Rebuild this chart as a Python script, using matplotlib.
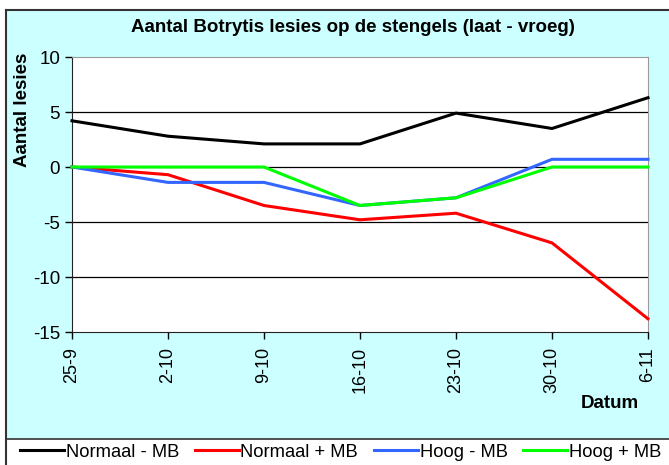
import matplotlib.pyplot as plt
from matplotlib.patches import Rectangle
from matplotlib.lines import Line2D

plt.rcParams['font.family'] = ['Liberation Sans', 'DejaVu Sans']
plt.rcParams['axes.unicode_minus'] = False

# --- Data ---
dates = ['25-9', '2-10', '9-10', '16-10', '23-10', '30-10', '6-11']
normaal_min = [4.2, 2.8, 2.1, 2.1, 4.9, 3.5, 6.3]
normaal_plus = [0.0, -0.7, -3.5, -4.8, -4.2, -6.9, -13.8]
hoog_min = [0.0, -1.4, -1.4, -3.5, -2.8, 0.7, 0.7]
hoog_plus = [0.0, 0.0, 0.0, -3.5, -2.8, 0.0, 0.0]

series = [
    ('Normaal - MB', normaal_min, '#000000'),
    ('Normaal + MB', normaal_plus, '#FF0000'),
    ('Hoog - MB', hoog_min, '#3366FF'),
    ('Hoog + MB', hoog_plus, '#00FF00'),
]

W, H = 669, 465
fs = 13.5
fig = plt.figure(figsize=(W / 100, H / 100), dpi=100)
fig.patch.set_facecolor('white')

# chart area background + border, legend strip below
fig.patches.append(Rectangle((6 / W, 0), 1, (H - 10) / H, transform=fig.transFigure,
                             facecolor='#CCFFFF', edgecolor='none', zorder=-10))
fig.patches.append(Rectangle((6 / W, 0), 1, (H - 439) / H, transform=fig.transFigure,
                             facecolor='white', edgecolor='none', zorder=-9))
fig.lines.append(Line2D([6 / W, 6 / W], [0, (H - 10) / H], transform=fig.transFigure,
                        color='#333333', lw=1.5, zorder=-5))
fig.lines.append(Line2D([6 / W, 1], [(H - 10) / H, (H - 10) / H], transform=fig.transFigure,
                        color='#333333', lw=1.5, zorder=-5))
fig.lines.append(Line2D([6 / W, 1], [(H - 439) / H, (H - 439) / H], transform=fig.transFigure,
                        color='#333333', lw=1.2, zorder=-5))

ax = fig.add_axes([72 / W, (H - 332) / H, (648 - 72) / W, (332 - 57) / H])
ax.set_facecolor('white')

x = list(range(len(dates)))
for name, vals, col in series:
    ax.plot(x, vals, color=col, lw=2.2, label=name, zorder=3, clip_on=False)

ax.set_xlim(0, len(dates) - 1)
ax.set_ylim(-15, 10)
ax.set_yticks([-15, -10, -5, 0, 5, 10])
ax.set_xticks(x)
ax.set_xticklabels(dates, rotation=90, fontsize=fs - 0.5)
ax.tick_params(axis='y', labelsize=fs, length=5, width=1)
ax.tick_params(axis='x', length=5, width=1, pad=6)

for yv in [-10, -5, 0, 5]:
    ax.axhline(yv, color='black', lw=0.9, zorder=1)

for s in ['top', 'right']:
    ax.spines[s].set_color('#999999')
for s in ['left', 'bottom']:
    ax.spines[s].set_color('#222222')

fig.text(0.527, (H - 28) / H, 'Aantal Botrytis lesies op de stengels (laat - vroeg)',
         ha='center', va='center', fontsize=fs, fontweight='bold')
fig.text(23 / W, (H - 110) / H, 'Aantal lesies', rotation=90, ha='center', va='center',
         fontsize=fs, fontweight='bold')
fig.text(610 / W, (H - 403) / H, 'Datum', ha='center', va='center',
         fontsize=fs, fontweight='bold')

fig.legend(loc='center', bbox_to_anchor=(0.509, (H - 452) / H), ncol=4, frameon=False,
           fontsize=13.2, handlelength=2.4, handletextpad=0.1, columnspacing=0.85,
           borderaxespad=0)

fig.savefig('out.png', dpi=100)
